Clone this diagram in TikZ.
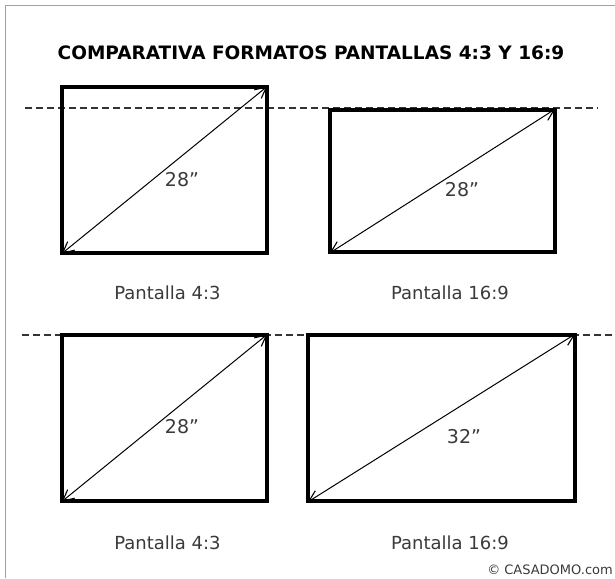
\documentclass[tikz,border=0pt]{standalone}
\usepackage{fontspec}
\setmainfont{DejaVu Sans}
\usetikzlibrary{arrows.meta}
\definecolor{txt}{HTML}{3A3A3A}
\definecolor{frame}{HTML}{A0A0A0}
\tikzset{
  screen/.style={draw=black, line width=4.5pt, inner sep=0pt, minimum width=#1},
  barb/.tip={Straight Barb[length=11pt, width=11pt, line width=1.1pt]},
  diag/.style={barb-barb, line width=1pt, shorten <=2.5pt, shorten >=2.5pt},
  guide/.style={draw=black!80, line width=1.2pt, dash pattern=on 7pt off 4pt},
  size/.style={text=txt, font=\fontsize{19}{21}\selectfont, inner sep=0pt},
  caption/.style={text=txt, font=\fontsize{18}{20}\selectfont, inner sep=0pt},
  title/.style={text=black, font=\bfseries\fontsize{18.5}{22}\selectfont, inner sep=0pt},
}
\begin{document}
\begin{tikzpicture}[x=1pt,y=-1pt]
\useasboundingbox (0,0) rectangle (615,578);
% frame
\draw[frame, line width=1.8pt] (5.5,578) -- (5.5,5.5) -- (615,5.5);
% title
\node[title] (t) at (311,53) {COMPARATIVA FORMATOS PANTALLAS 4:3 Y 16:9};
% guide lines
\coordinate (g1a) at (25,108);
\coordinate (g1b) at (598,108);
\coordinate (g2a) at (22,335);
\coordinate (g2b) at (615,335);
\draw[guide] (g1a) -- (g1b);
\draw[guide] (g2a) -- (g2b);
% screens
\node[screen=205pt, minimum height=166pt] (b1) at (164.5,170) {};
\node[screen=225pt, minimum height=142pt] (b2) at (442.5,181) {};
\node[screen=205pt, minimum height=166pt] (b3) at (164.5,418) {};
\node[screen=267pt, minimum height=166pt] (b4) at (441.5,418) {};
% diagonals
\draw[diag] (b1.south west) -- (b1.north east);
\draw[diag] (b2.south west) -- (b2.north east);
\draw[diag] (b3.south west) -- (b3.north east);
\draw[diag] (b4.south west) -- (b4.north east);
% sizes
\node[size] (s1) at (182,180) {28”};
\node[size] (s2) at (462,190) {28”};
\node[size] (s3) at (182,427) {28”};
\node[size] (s4) at (464,437) {32”};
% captions
\node[caption] (c1) at (167.5,293) {Pantalla 4:3};
\node[caption] (c2) at (450,293) {Pantalla 16:9};
\node[caption] (c3) at (167.5,543) {Pantalla 4:3};
\node[caption] (c4) at (450,543) {Pantalla 16:9};
% copyright
\node[text=txt, font=\fontsize{13}{15}\selectfont, inner sep=0pt, anchor=east] (cr) at (613,570) {© CASADOMO.com};
\end{tikzpicture}
\end{document}
